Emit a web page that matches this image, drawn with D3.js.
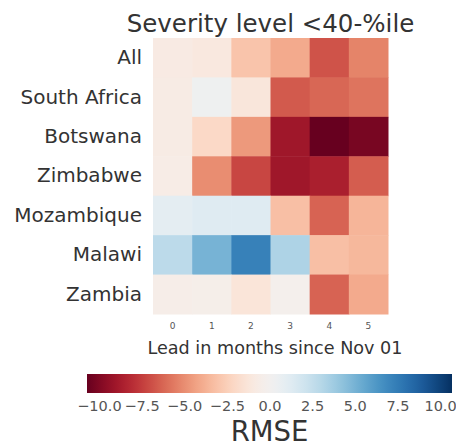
<!DOCTYPE html>
<html>
<head>
<meta charset="utf-8">
<script src="https://cdn.jsdelivr.net/npm/d3@7"></script>
<style>
  html, body { margin: 0; padding: 0; background: #fff; }
  svg text { font-family: "DejaVu Sans", sans-serif; }
</style>
</head>
<body>
<svg id="chart" width="456" height="446"></svg>
<script>
// Rows (regions) and columns (lead month)
const regions = ["All", "South Africa", "Botswana", "Zimbabwe", "Mozambique", "Malawi", "Zambia"];
const leads = ["0", "1", "2", "3", "4", "5"];

// RMSE difference per region, one array entry per lead month
const rmseAll          = [-0.8, -1.0, -3.0, -4.0, -6.8, -5.3];
const rmseSouthAfrica  = [-0.7,  0.3, -1.2, -6.6, -6.2, -5.8];
const rmseBotswana     = [-0.7, -2.0, -4.6, -9.0, -10.7, -10.2];
const rmseZimbabwe     = [-0.6, -5.0, -7.2, -9.0, -8.6, -6.5];
const rmseMozambique   = [ 1.0,  1.3,  1.3, -3.2, -6.3, -3.6];
const rmseMalawi       = [ 2.8,  5.0,  7.3,  3.3, -3.2, -3.5];
const rmseZambia       = [-0.5, -0.4, -1.3, -0.2, -6.3, -4.0];
const rmseRows = [rmseAll, rmseSouthAfrica, rmseBotswana, rmseZimbabwe, rmseMozambique, rmseMalawi, rmseZambia];

// Colour bar range and tick labels
const colorLimit = 10.7;
const colorTicks = [-10.0, -7.5, -5.0, -2.5, 0.0, 2.5, 5.0, 7.5, 10.0];

const svg = d3.select("#chart");

const hm = { left: 153, right: 388, top: 38, bottom: 314 };

const x = d3.scaleBand().domain(leads).range([hm.left, hm.right]).padding(0);
const y = d3.scaleBand().domain(regions).range([hm.top, hm.bottom]).padding(0);
const color = d3.scaleSequential(d3.interpolateRdBu).domain([-colorLimit, colorLimit]);

const cells = [];
regions.forEach((r, i) => {
  leads.forEach((l, j) => cells.push({ region: r, lead: l, value: rmseRows[i][j] }));
});

svg.append("g").selectAll("rect")
  .data(cells)
  .join("rect")
  .attr("x", d => x(d.lead))
  .attr("y", d => y(d.region))
  .attr("width", x.bandwidth() + 0.5)
  .attr("height", y.bandwidth() + 0.5)
  .attr("fill", d => color(d.value));

// Title
svg.append("text")
  .attr("x", (hm.left + hm.right) / 2)
  .attr("y", 32)
  .attr("text-anchor", "middle")
  .attr("font-size", 24.5)
  .attr("fill", "#333")
  .text("Severity level <40-%ile");

// Y axis (region names)
const yAxis = d3.axisLeft(y).tickSize(0).tickPadding(11);
const gy = svg.append("g").attr("transform", `translate(${hm.left},0)`).call(yAxis);
gy.select(".domain").remove();
gy.selectAll("text").attr("font-size", 20).attr("fill", "#333").attr("font-family", "DejaVu Sans, sans-serif");

// X axis (lead months)
const xAxis = d3.axisBottom(x).tickSize(0).tickPadding(9);
const gx = svg.append("g").attr("transform", `translate(0,${hm.bottom})`).call(xAxis);
gx.select(".domain").remove();
gx.selectAll("text").attr("font-size", 9).attr("fill", "#555").attr("font-family", "DejaVu Sans, sans-serif");

svg.append("text")
  .attr("x", 275)
  .attr("y", 354)
  .attr("text-anchor", "middle")
  .attr("font-size", 17.6)
  .attr("fill", "#333")
  .text("Lead in months since Nov 01");

// Colour bar
const cb = { left: 87, right: 452, top: 374, bottom: 393 };
const cbx = d3.scaleLinear().domain([-colorLimit, colorLimit]).range([cb.left, cb.right]);

const defs = svg.append("defs");
const grad = defs.append("linearGradient").attr("id", "rmse-grad")
  .attr("x1", "0%").attr("x2", "100%").attr("y1", "0%").attr("y2", "0%");
d3.range(0, 1.0001, 0.02).forEach(t => {
  grad.append("stop")
    .attr("offset", `${t * 100}%`)
    .attr("stop-color", color(-colorLimit + t * 2 * colorLimit));
});

svg.append("rect")
  .attr("x", cb.left)
  .attr("y", cb.top)
  .attr("width", cb.right - cb.left)
  .attr("height", cb.bottom - cb.top)
  .attr("fill", "url(#rmse-grad)");

const cbAxis = d3.axisBottom(cbx).tickValues(colorTicks).tickSize(0).tickPadding(8)
  .tickFormat(d => d3.format(".1f")(d).replace("-", "\u2212"));
const gcb = svg.append("g").attr("transform", `translate(0,${cb.bottom})`).call(cbAxis);
gcb.select(".domain").remove();
gcb.selectAll("text").attr("font-size", 14.5).attr("fill", "#555").attr("font-family", "DejaVu Sans, sans-serif");

svg.append("text")
  .attr("x", (cb.left + cb.right) / 2)
  .attr("y", 441)
  .attr("text-anchor", "middle")
  .attr("font-size", 27.5)
  .attr("fill", "#333")
  .text("RMSE");
</script>
</body>
</html>
